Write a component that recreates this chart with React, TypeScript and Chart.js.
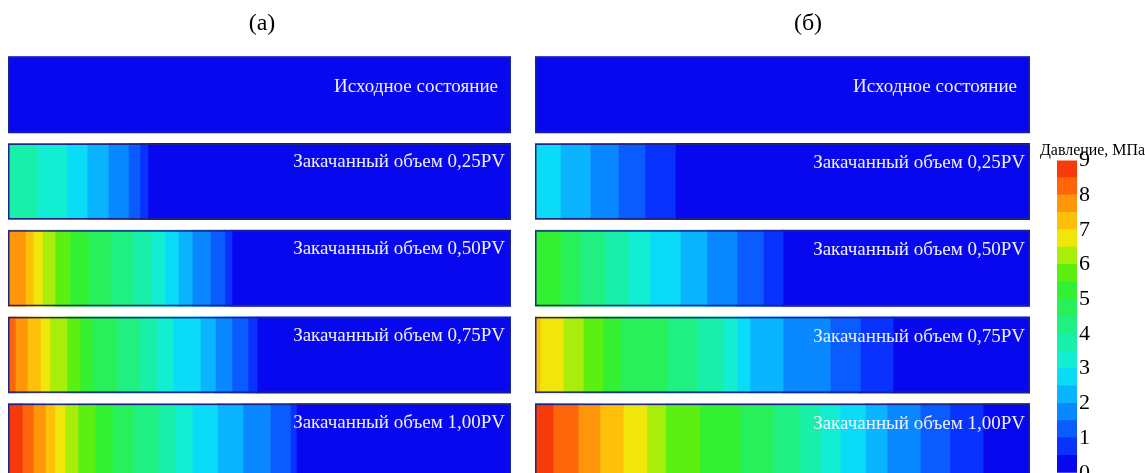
import React, { useEffect, useRef } from 'react';
import { Chart, registerables } from 'chart.js';

Chart.register(...registerables);

// ---------- data ----------
const rowLabels = [
  'Исходное состояние',
  'Закачанный объем 0,25PV',
  'Закачанный объем 0,50PV',
  'Закачанный объем 0,75PV',
  'Закачанный объем 1,00PV',
];
const columnTitles = ['(a)', '(б)'];
const colorbarTitle = 'Давление, МПа';
const pressureTicks = [0, 1, 2, 3, 4, 5, 6, 7, 8, 9];
const levelStep = 0.5; // MPa per contour band

// contour band colours, band i = [i*0.5, (i+1)*0.5) MPa
const levelColors = [
  '#0808f0', '#0a32ff', '#0a5cff', '#0a88ff', '#0ab4ff', '#0adcf8',
  '#12eed2', '#18f0aa', '#20f082', '#28f05a', '#34f032', '#5cf012',
  '#a8ee0a', '#f0e60a', '#ffc00a', '#ff960a', '#ff660a', '#f63a0a',
];

// isobar positions (% of model length) for p = 0.5, 1.0, 1.5, ... MPa
const isobarsA000: number[] = [];
const isobarsA025 = [27.8, 26.2, 23.9, 19.9, 15.7, 11.7, 5.8];
const isobarsA050 = [44.5, 43.1, 40.2, 36.6, 33.8, 31.2, 28.6, 24.9, 20.3, 15.9, 12.3, 9.3, 6.8, 5.0, 3.4];
const isobarsA075 = [49.5, 47.7, 44.5, 41.2, 38.2, 32.8, 29.6, 26.2, 21.7, 16.9, 14.3, 11.7, 8.3, 6.4, 3.8, 1.4];
const isobarsA100 = [57.3, 56.1, 52.1, 46.7, 41.6, 36.6, 33.2, 29.8, 24.9, 20.7, 17.3, 13.9, 11.3, 9.3, 7.4, 5.0, 2.8];

const isobarsB000: number[] = [];
const isobarsB025 = [28.3, 22.2, 16.8, 11.1, 5.1];
const isobarsB050 = [50.1, 46.1, 40.8, 34.7, 29.3, 23.2, 18.8, 14.1, 9.1, 5.1];
const isobarsB075 = [72.3, 65.7, 59.6, 50.1, 43.4, 40.8, 38.0, 32.7, 26.7, 17.2, 13.7, 9.7, 5.7, 1.0];
const isobarsB100 = [90.5, 83.8, 77.8, 71.1, 66.7, 61.6, 57.6, 53.5, 48.1, 41.4, 33.3, 26.3, 22.6, 17.8, 13.1, 8.7, 3.6];

const columnA = [isobarsA000, isobarsA025, isobarsA050, isobarsA075, isobarsA100];
const columnB = [isobarsB000, isobarsB025, isobarsB050, isobarsB075, isobarsB100];

// ---------- helpers ----------
const SERIF = '"Liberation Serif", "Times New Roman", serif';

function levelWidths(isobars: number[]): number[] {
  const pos = (j: number) => (j === 0 ? 100 : isobars[j - 1] ?? 0);
  return levelColors.map((_, i) => Math.max(pos(i) - pos(i + 1), 0));
}

const panelDecorPlugin = {
  id: 'panelDecor',
  afterDatasetsDraw(chart: any, _args: any, opts: any) {
    const ctx = chart.ctx;
    const xs = chart.scales.x;
    const ys = chart.scales.y;
    const left = xs.getPixelForValue(0);
    const right = xs.getPixelForValue(100);
    const half = 38;
    ctx.save();
    rowLabels.forEach((label, r) => {
      const top = ys.getPixelForValue(r) - half;
      ctx.strokeStyle = '#1b2585';
      ctx.lineWidth = 1.5;
      ctx.strokeRect(left + 0.75, top + 0.75, right - left - 1.5, 2 * half - 1.5);
      ctx.font = `19px ${SERIF}`;
      ctx.fillStyle = '#eef0ff';
      ctx.textAlign = 'right';
      ctx.textBaseline = 'alphabetic';
      const inset = r === 0 ? 13 : opts.inset;
      const base = r === 0 ? 35 : opts.baseline;
      ctx.fillText(label, right - inset, top + base);
    });
    ctx.font = `24px ${SERIF}`;
    ctx.fillStyle = '#000';
    ctx.textAlign = 'center';
    ctx.textBaseline = 'middle';
    ctx.fillText(opts.title, (left + right) / 2 + opts.titleDx, 24);
    ctx.restore();
  },
};

function makeColumnConfig(rows: number[][], title: string, titleDx: number, baseline: number, inset: number): any {
  const widths = rows.map(levelWidths);
  const datasets: any[] = [];
  for (let i = levelColors.length - 1; i >= 0; i--) {
    datasets.push({
      label: `${(i * levelStep).toFixed(1)}–${((i + 1) * levelStep).toFixed(1)} МПа`,
      data: widths.map((w) => (w[i] > 0 ? w[i] : null)),
      backgroundColor: levelColors[i],
      borderWidth: 0,
      inflateAmount: 0.5,
      barThickness: 76,
    });
  }
  return {
    type: 'bar',
    data: { labels: rowLabels, datasets },
    options: {
      indexAxis: 'y',
      responsive: false,
      animation: false,
      devicePixelRatio: 1,
      layout: { padding: { top: 51.4, left: 0, right: 0, bottom: 0 } },
      scales: {
        x: { display: false, stacked: true, min: 0, max: 100 },
        y: { display: false, stacked: true },
      },
      plugins: {
        legend: { display: false },
        tooltip: { enabled: false },
        title: { display: false },
        panelDecor: { title, titleDx, baseline, inset },
      },
    },
    plugins: [panelDecorPlugin],
  };
}

function makeColorbarConfig(): any {
  const datasets = levelColors.map((c, i) => ({
    label: `${(i * levelStep).toFixed(1)}`,
    data: [levelStep],
    backgroundColor: c,
    borderWidth: 0,
    inflateAmount: 0.5,
    xAxisID: 'x',
    yAxisID: 'y',
  }));
  return {
    type: 'bar',
    data: { labels: [''], datasets },
    options: {
      responsive: false,
      animation: false,
      devicePixelRatio: 1,
      layout: { padding: { top: 0, left: 0, right: 0, bottom: 14 } },
      datasets: { bar: { barPercentage: 1, categoryPercentage: 1 } },
      scales: {
        x: { display: false, stacked: true },
        y: {
          position: 'right',
          stacked: true,
          min: pressureTicks[0],
          max: pressureTicks[pressureTicks.length - 1],
          grid: { display: false, drawTicks: false },
          border: { display: false },
          ticks: {
            stepSize: 1,
            padding: 2,
            color: '#000',
            font: { family: SERIF, size: 22 },
            callback: (v: any) => String(v),
          },
          afterFit: (s: any) => {
            s.width = 68;
          },
        },
        spacer: {
          type: 'linear',
          axis: 'y',
          position: 'left',
          display: true,
          min: 0,
          max: 1,
          grid: { display: false, drawTicks: false },
          border: { display: false },
          ticks: { display: false },
          afterFit: (s: any) => {
            s.width = 17;
          },
        },
      },
      plugins: {
        legend: { display: false },
        tooltip: { enabled: false },
        title: {
          display: true,
          text: colorbarTitle,
          align: 'end',
          color: '#000',
          font: { family: SERIF, size: 17, weight: 'normal' },
          padding: { top: 10, bottom: 0 },
        },
      },
    },
  };
}

export default function App() {
  const aRef = useRef<HTMLCanvasElement>(null);
  const bRef = useRef<HTMLCanvasElement>(null);
  const cRef = useRef<HTMLCanvasElement>(null);

  useEffect(() => {
    const charts: Chart[] = [];
    if (aRef.current) charts.push(new Chart(aRef.current, makeColumnConfig(columnA, columnTitles[0], 2.5, 24, 6)));
    if (bRef.current) charts.push(new Chart(bRef.current, makeColumnConfig(columnB, columnTitles[1], 25.5, 25, 5)));
    if (cRef.current) charts.push(new Chart(cRef.current, makeColorbarConfig()));
    return () => charts.forEach((c) => c.destroy());
  }, []);

  return (
    <div
      style={{
        position: 'fixed',
        left: 0,
        top: 0,
        width: 1145,
        height: 473,
        overflow: 'hidden',
        background: '#fff',
      }}
    >
      <canvas ref={aRef} width={503} height={485} style={{ position: 'absolute', left: 8, top: 0 }} />
      <canvas ref={bRef} width={495} height={485} style={{ position: 'absolute', left: 535, top: 0 }} />
      <canvas ref={cRef} width={105} height={358} style={{ position: 'absolute', left: 1040, top: 130 }} />
    </div>
  );
}
